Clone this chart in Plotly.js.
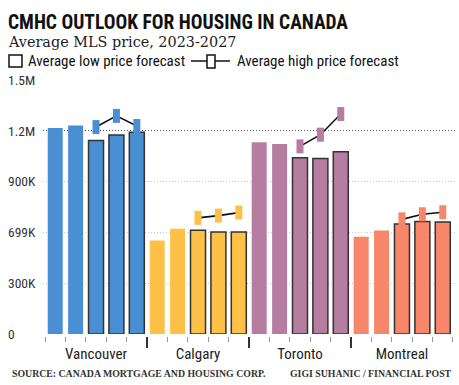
<!DOCTYPE html>
<html>
<head>
<meta charset="utf-8">
<script src="https://cdn.plot.ly/plotly-3.0.1.min.js"></script>
<style>html,body{margin:0;padding:0;background:#fff;}#chart{width:459px;height:385px;}</style>
</head>
<body>
<div id="chart"></div>
<script>
// ---- data ----
const cities = ['Vancouver', 'Calgary', 'Toronto', 'Montreal'];
const years = [2023, 2024, 2025, 2026, 2027];
const forecastYears = [2025, 2026, 2027];
const vancouverLow = [1217000, 1232000, 1142000, 1175000, 1191000];
const calgaryLow = [552000, 622000, 612000, 603000, 603000];
const torontoLow = [1132000, 1122000, 1041000, 1037000, 1077000];
const montrealLow = [575000, 611000, 650000, 664000, 662000];
const vancouverHigh = [1222000, 1288000, 1228000];
const calgaryHigh = [686000, 699000, 717000];
const torontoHigh = [1108000, 1177000, 1299000];
const montrealHigh = [677000, 707000, 719000];
const cityColors = ['#4a8ed3', '#fec148', '#b57d9f', '#f7866a'];
const yTickVals = [0, 300000, 600000, 900000, 1200000, 1500000];
const yTickText = ['0', '300K', '699K', '900K', '1.2M', '1.5M'];

const lowSeries = [vancouverLow, calgaryLow, torontoLow, montrealLow];
const highSeries = [vancouverHigh, calgaryHigh, torontoHigh, montrealHigh];

// ---- build traces ----
const narrow = '"Liberation Sans Narrow", "Roboto Condensed", "DejaVu Sans Condensed", Roboto, sans-serif';
const serif = '"DejaVu Serif", "Liberation Serif", serif';
const serif2 = '"Liberation Serif", "DejaVu Serif", serif';
const n = years.length;
const actX = [], actY = [], actC = [];
const fcX = [], fcY = [], fcC = [];
const hiX = [], hiY = [], hiC = [];
lowSeries.forEach((s, ci) => {
  years.forEach((yr, yi) => {
    const x = ci * n + yi;
    if (forecastYears.includes(yr)) { fcX.push(x); fcY.push(s[yi]); fcC.push(cityColors[ci]); }
    else { actX.push(x); actY.push(s[yi]); actC.push(cityColors[ci]); }
  });
  forecastYears.forEach((yr, fi) => {
    hiX.push(ci * n + years.indexOf(yr)); hiY.push(highSeries[ci][fi]); hiC.push(cityColors[ci]);
  });
  hiX.push(null); hiY.push(null); hiC.push('#000');
});

const barW = 0.735;
const traces = [
  {type: 'bar', x: actX, y: actY, width: barW, marker: {color: actC, line: {width: 0}}, hoverinfo: 'skip', showlegend: false},
  {type: 'bar', x: fcX, y: fcY, width: barW, marker: {color: fcC, line: {width: 1.5, color: '#333'}}, hoverinfo: 'skip', showlegend: false},
  {type: 'scatter', mode: 'lines+markers', x: hiX, y: hiY, connectgaps: false,
   line: {color: '#111', width: 1.6},
   marker: {symbol: 'line-ns-open', size: 10, color: hiC, line: {width: 7, color: hiC}},
   hoverinfo: 'skip', showlegend: false},
  {type: 'scatter', x: [], y: [], xaxis: 'x2', yaxis: 'y', showlegend: false, hoverinfo: 'skip'},
  {type: 'scatter', x: [], y: [], xaxis: 'x3', yaxis: 'y', showlegend: false, hoverinfo: 'skip'},
  {type: 'scatter', x: [], y: [], xaxis: 'x', yaxis: 'y2', showlegend: false, hoverinfo: 'skip'},
  {type: 'scatter', x: [], y: [], xaxis: 'x', yaxis: 'y3', showlegend: false, hoverinfo: 'skip'}
];

// boundary ticks
const nBars = cities.length * n;
const smallTicks = [], bigTicks = [], groupCenters = [];
for (let k = 0; k <= nBars; k++) {
  if (k % n === 0 && k > 0 && k < nBars) bigTicks.push(k - 0.5); else smallTicks.push(k - 0.5);
}
cities.forEach((c, ci) => groupCenters.push(ci * n + (n - 1) / 2));

const W = 459, H = 385;
const mL = 4, mR = 4, mT = 66, mB = 30;
const pw = W - mL - mR, ph = H - mT - mB;
const px = v => (v - mL) / pw;
const py = v => (H - mB - v) / ph;
const zeroPx = 334, topPx = 80, axisPx = 336;
const yMax = 1500000;
const perPx = yMax / (zeroPx - topPx);
const xDomain = [px(43), 1];
const yDomain = [py(zeroPx), py(topPx)];
const xRange = [-0.6, nBars - 0.4];
const yRange = [0, yMax];
const y2Range = [-(H - mB - zeroPx) * perPx, yMax + (topPx - mT) * perPx];
const xPos = py(axisPx);

const layout = {
  width: W, height: H,
  margin: {l: mL, r: mR, t: mT, b: mB, pad: 0},
  paper_bgcolor: '#fff', plot_bgcolor: 'rgba(0,0,0,0)',
  barmode: 'overlay',
  showlegend: false,
  title: {text: 'CMHC OUTLOOK FOR HOUSING IN CANADA', x: 8 / W, xanchor: 'left', xref: 'container',
          y: 1 - 22 / H, yanchor: 'middle', yref: 'container',
          font: {family: narrow, size: 19.5, color: '#111', weight: 'bold'}},
  xaxis: {domain: xDomain, range: xRange, anchor: 'free', position: xPos, tickmode: 'array', tickvals: smallTicks,
          ticks: 'outside', ticklen: 5, tickwidth: 1, tickcolor: '#999', showticklabels: false,
          showgrid: false, zeroline: false, showline: false, fixedrange: true},
  xaxis2: {domain: xDomain, range: xRange, overlaying: 'x', anchor: 'free', position: xPos, tickmode: 'array', tickvals: bigTicks,
           ticks: 'outside', ticklen: 11, tickwidth: 1.3, tickcolor: '#333', showticklabels: false,
           showgrid: false, zeroline: false, showline: false},
  xaxis3: {domain: xDomain, range: xRange, overlaying: 'x', anchor: 'free', position: xPos, tickmode: 'array',
           tickvals: groupCenters, ticktext: cities, ticks: '', ticklabelstandoff: 7,
           tickfont: {family: narrow, size: 15, color: '#222'},
           showgrid: false, zeroline: false, showline: false},
  yaxis: {domain: yDomain, range: yRange, anchor: 'x', tickmode: 'array', tickvals: yTickVals.slice(1),
          showticklabels: false, ticks: '', showgrid: true, gridcolor: '#c8c8c8', griddash: '1px,2px', gridwidth: 1,
          zeroline: false, showline: false},
  yaxis2: {domain: [0, 1], range: y2Range, anchor: 'free', position: 0, side: 'left',
           tickmode: 'array', tickvals: yTickVals, ticktext: yTickText, ticklabelposition: 'inside', ticks: '',
           ticklabelstandoff: 0,
           tickfont: {family: narrow, size: 13.5, color: '#333'}, showgrid: false, zeroline: false, showline: false},
  yaxis3: {domain: yDomain, range: yRange, overlaying: 'y', anchor: 'x', tickmode: 'array', tickvals: [1200000],
           showticklabels: false, ticks: '', showgrid: true, gridcolor: '#555', griddash: '1px,2px', gridwidth: 1,
           zeroline: false, showline: false},
  shapes: [
    {type: 'rect', xref: 'paper', yref: 'paper', x0: px(9), x1: px(22), y0: py(67), y1: py(55), line: {color: '#111', width: 1.5}, fillcolor: '#fff'},
    {type: 'line', xref: 'paper', yref: 'paper', x0: px(191), x1: px(230), y0: py(61), y1: py(61), line: {color: '#111', width: 1.5}},
    {type: 'rect', xref: 'paper', yref: 'paper', x0: px(207), x1: px(215), y0: py(68), y1: py(55), line: {color: '#111', width: 1.5}, fillcolor: '#fff'}
  ],
  annotations: [
    {text: 'Average MLS price, 2023-2027', xref: 'paper', yref: 'paper', x: px(6), y: py(42), xanchor: 'left', yanchor: 'middle', showarrow: false,
     font: {family: serif, size: 14.4, color: '#222'}},
    {text: 'Average low price forecast', xref: 'paper', yref: 'paper', x: px(26), y: py(61), xanchor: 'left', yanchor: 'middle', showarrow: false,
     font: {family: narrow, size: 15, color: '#111'}},
    {text: 'Average high price forecast', xref: 'paper', yref: 'paper', x: px(235), y: py(61), xanchor: 'left', yanchor: 'middle', showarrow: false,
     font: {family: narrow, size: 15, color: '#111'}},
    {text: 'SOURCE: CANADA MORTGAGE AND HOUSING CORP.', xref: 'paper', yref: 'paper', x: px(10), y: py(373), xanchor: 'left', yanchor: 'middle', showarrow: false,
     font: {family: serif2, size: 9.8, color: '#333', weight: 'bold'}},
    {text: 'GIGI SUHANIC / FINANCIAL POST', xref: 'paper', yref: 'paper', x: px(454), y: py(373), xanchor: 'right', yanchor: 'middle', showarrow: false,
     font: {family: serif2, size: 9.8, color: '#333', weight: 'bold'}}
  ]
};

Plotly.newPlot('chart', traces, layout, {staticPlot: true, displayModeBar: false});
</script>
</body>
</html>
